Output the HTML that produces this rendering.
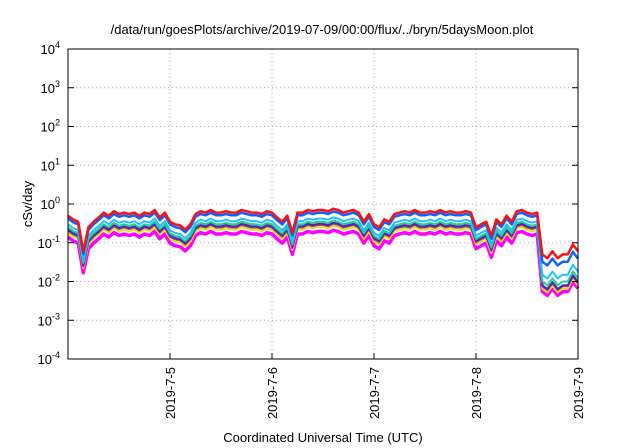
<!DOCTYPE html>
<html><head><meta charset="utf-8"><style>
body{margin:0;background:#fff;}
svg{display:block;font-family:"Liberation Sans",sans-serif;}
</style></head><body>
<svg id="chart" width="640" height="448" viewBox="0 0 640 448">
<text x="322" y="34" text-anchor="middle" font-size="13">/data/run/goesPlots/archive/2019-07-09/00:00/flux/../bryn/5daysMoon.plot</text>
<g id="grid"></g>
<g id="series"></g>
<rect x="68" y="49" width="510" height="310" fill="none" stroke="#000" stroke-width="1"/>
<g id="axes"></g>
<text x="32" y="204" transform="rotate(-90 32 204)" text-anchor="middle" font-size="13">cSv/day</text>
<text x="323" y="442" text-anchor="middle" font-size="13">Coordinated Universal Time (UTC)</text>
</svg>
<script>
const yExponents=[-4,-3,-2,-1,0,1,2,3,4];
const xTickDays=[5,6,7,8,9];
const xTickLabels=["2019-7-5","2019-7-6","2019-7-7","2019-7-8","2019-7-9"];
const startDay=4.0, stepDay=0.05, dropIndex=93;
const redValues=[0.5,0.4,0.35,0.06,0.25,0.35,0.45,0.6,0.5,0.65,
0.55,0.6,0.55,0.6,0.5,0.6,0.55,0.7,0.45,0.6,
0.35,0.3,0.28,0.22,0.3,0.55,0.65,0.6,0.7,0.6,
0.6,0.65,0.6,0.6,0.7,0.65,0.6,0.6,0.55,0.65,
0.6,0.45,0.35,0.5,0.18,0.6,0.6,0.7,0.65,0.7,
0.7,0.65,0.75,0.7,0.6,0.65,0.7,0.6,0.35,0.55,
0.3,0.25,0.4,0.35,0.55,0.6,0.65,0.6,0.7,0.6,
0.6,0.65,0.6,0.7,0.6,0.65,0.6,0.6,0.65,0.6,
0.25,0.3,0.35,0.15,0.4,0.3,0.5,0.35,0.65,0.7,
0.6,0.55,0.6,0.05,0.04,0.06,0.04,0.05,0.05,0.09,0.06];
const seriesNames=["red","blue","cyan","green","darkblue","brown","yellow","magenta"];
const seriesColors=["#ff1010","#1060ff","#20c0ff","#20d090","#5020c0","#a05060","#f0e020","#ff00ff"];
const seriesWidths=[2.5,2.5,2,2,2,2,2,3.5];
const preFactors=[1,0.85,0.6,0.5,0.44,0.41,0.36,0.28];
const postFactors=[1,0.65,0.3,0.2,0.16,0.15,0.13,0.11];

const L=68,R=578,T=49,B=359;
const xS=d=>L+(d-4)/(9-4)*(R-L);
const yS=v=>B-(Math.log10(v)+4)/8*(B-T);
const NS="http://www.w3.org/2000/svg";
function mk(tag,attrs,parent){const e=document.createElementNS(NS,tag);for(const k in attrs)e.setAttribute(k,attrs[k]);parent.appendChild(e);return e;}
const grid=document.getElementById('grid'),axes=document.getElementById('axes'),ser=document.getElementById('series');
yExponents.forEach(p=>{
 const y=yS(Math.pow(10,p));
 if(p>-4&&p<4){const g=mk('line',{x1:L,x2:R,y1:y,y2:y,stroke:'#aaa','stroke-dasharray':'1,3','stroke-width':1},grid);
 
 }
 const t1=mk('line',{x1:L,x2:L+6,y1:y,y2:y,stroke:'#000'},axes);
 
 
 const t2=mk('line',{x1:R-6,x2:R,y1:y,y2:y,stroke:'#000'},axes);
 
 
 const tx=mk('text',{x:L-8,y:y+5,'text-anchor':'end','font-size':13},axes);
 
 
 tx.innerHTML='10<tspan dy="-6" font-size="9">'+p+'</tspan>';
});
xTickDays.forEach((d,i)=>{
 const x=xS(d);
 if(d<9){const g=mk('line',{x1:x,x2:x,y1:T,y2:B,stroke:'#aaa','stroke-dasharray':'1,3'},grid);
 
 }
 const t=mk('line',{x1:x,x2:x,y1:B-6,y2:B,stroke:'#000'},axes);
 
 
 const tx=mk('text',{x:x+5,y:B+8,'text-anchor':'end','font-size':13,transform:'rotate(-90 '+(x+5)+' '+(B+8)+')'},axes);
 
 
 tx.textContent=xTickLabels[i];
});
for(let s=seriesNames.length-1;s>=0;s--){
 const pts=redValues.map((v,i)=>{const f=i>=dropIndex?postFactors[s]:preFactors[s];return xS(startDay+i*stepDay).toFixed(1)+','+yS(v*f).toFixed(1);}).join(' ');
 const pl=mk('polyline',{points:pts,fill:'none',stroke:seriesColors[s],'stroke-width':seriesWidths[s],'stroke-linejoin':'round'},ser);
 
 
}
</script>
</body></html>
